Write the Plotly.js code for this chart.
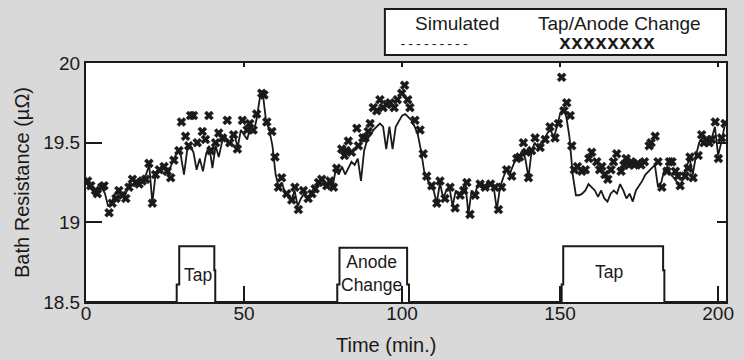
<!DOCTYPE html>
<html>
<head>
<meta charset="utf-8">
<script src="https://cdn.plot.ly/plotly-3.0.1.min.js"></script>
<style>html,body{margin:0;padding:0;background:#d9d9d9;}#chart{width:744px;height:360px;}</style>
</head>
<body>
<div id="chart"></div>
<script>
// Solid line series (time in min, bath resistance in micro-ohm)
var lineTime = [0,1,2,3,4,5,6,7,8,9,10,11,12,13,14,15,16,17,18,19,20,21,22,23,24,25,26,27,28,29,30,31,32,33,34,35,36,37,38,39,40,41,42,43,44,45,46,47,48,49,50,51,52,53,54,55,56,57,58,59,60,61,62,63,64,65,66,67,68,69,70,71,72,73,74,75,76,77,78,79,80,81,82,83,84,85,86,87,88,89,90,91,92,93,94,95,96,97,98,99,100,101,102,103,104,105,106,107,108,109,110,111,112,113,114,115,116,117,118,119,120,121,122,123,124,125,126,127,128,129,130,131,132,133,134,135,136,137,138,139,140,141,142,143,144,145,146,147,148,149,150,151,152,153,154,155,156,157,158,159,160,161,162,163,164,165,166,167,168,169,170,171,172,173,174,175,176,177,178,179,180,181,182,183,184,185,186,187,188,189,190,191,192,193,194,195,196,197,198,199,200,201,202];
var lineValue = [19.25,19.22,19.2,19.17,19.2,19.22,19.18,19.1,19.12,19.17,19.2,19.18,19.15,19.2,19.26,19.27,19.24,19.25,19.27,19.3,19.36,19.12,19.3,19.33,19.35,19.34,19.3,19.36,19.4,19.45,19.42,19.3,19.45,19.48,19.44,19.33,19.4,19.32,19.43,19.48,19.34,19.48,19.41,19.5,19.55,19.48,19.52,19.55,19.47,19.58,19.55,19.52,19.6,19.56,19.65,19.78,19.8,19.63,19.58,19.48,19.3,19.22,19.25,19.18,19.16,19.14,19.2,19.1,19.15,19.18,19.15,19.18,19.2,19.22,19.25,19.24,19.22,19.25,19.22,19.33,19.3,19.35,19.3,19.34,19.38,19.36,19.4,19.26,19.45,19.52,19.55,19.58,19.6,19.62,19.6,19.46,19.6,19.46,19.6,19.64,19.67,19.68,19.66,19.64,19.6,19.55,19.45,19.32,19.27,19.22,19.2,19.12,19.25,19.15,19.2,19.22,19.1,19.2,19.17,19.2,19.25,19.05,19.2,19.17,19.24,19.22,19.22,19.25,19.24,19.22,19.08,19.22,19.28,19.33,19.3,19.35,19.4,19.41,19.45,19.4,19.28,19.45,19.5,19.47,19.5,19.52,19.56,19.58,19.53,19.6,19.68,19.72,19.66,19.53,19.3,19.17,19.17,19.18,19.2,19.24,19.22,19.2,19.16,19.2,19.15,19.13,19.18,19.2,19.18,19.24,19.2,19.15,19.18,19.13,19.2,19.23,19.26,19.3,19.32,19.34,19.36,19.22,19.25,19.33,19.35,19.3,19.28,19.25,19.23,19.28,19.35,19.4,19.3,19.42,19.5,19.53,19.52,19.5,19.53,19.6,19.42,19.5,19.6];

// x-marker series
var markTime = [0.5,1.5,3,3.6,5,5.7,7.3,8.3,9.5,10.4,11.5,12.6,13.6,14.7,15.8,16.8,17.8,18.9,19.9,21,22,23.2,24.7,25.7,26.8,27.8,29.4,30.2,31.5,32.5,33.1,34,35.2,36.8,37.8,38.9,39.5,41,42,43.2,44.7,45.5,46.7,47.9,49.5,51,51.8,52.9,54,55.6,56.3,57.2,58.8,59.8,60.9,61.9,63.5,65.1,66.1,67.2,68.8,70.3,71.5,72.5,73.6,74.6,76.2,77.2,78.3,79.3,80.9,81.8,82.3,83,84,85.7,86.2,87.6,88.3,89.3,89.9,90.9,92,93,94,95.2,96.2,97.5,98.5,99.9,100.8,101.8,102.5,104.1,105.7,106.7,107.8,109.4,111,112,113.6,115.2,116.8,118.4,119.5,120.5,121.5,123.1,124.7,126.3,128,129.4,130.5,131.5,133.1,134.7,136.3,137.2,138.4,139.3,140,141,142.1,143.7,145.3,146.8,148.4,149.5,150.5,151.2,152.1,153.2,153.7,154.5,155.5,156.9,158,159.1,160,161.6,162.5,163.2,164.2,165.1,166.1,166.9,167.9,169.3,170.2,170.9,171.8,172.5,173.5,174.6,175.6,176.7,178.2,178.8,180.1,181,182.2,183.8,184.6,185.4,186.5,187.3,188,189.6,190.5,191.1,192.1,193.7,194.8,195.5,196.4,197.2,198,199.1,200.1,201.1,202.2];
var markValue = [19.26,19.23,19.2,19.18,19.22,19.23,19.06,19.12,19.15,19.2,19.17,19.15,19.22,19.27,19.25,19.24,19.26,19.27,19.37,19.12,19.3,19.33,19.35,19.32,19.28,19.39,19.45,19.63,19.54,19.48,19.67,19.67,19.5,19.57,19.52,19.67,19.45,19.5,19.56,19.53,19.64,19.5,19.55,19.46,19.64,19.58,19.62,19.58,19.68,19.81,19.8,19.63,19.57,19.41,19.22,19.28,19.18,19.14,19.22,19.08,19.2,19.15,19.18,19.21,19.25,19.27,19.23,19.26,19.22,19.34,19.46,19.42,19.45,19.51,19.44,19.59,19.48,19.53,19.53,19.57,19.62,19.72,19.7,19.77,19.72,19.74,19.75,19.72,19.77,19.81,19.86,19.77,19.72,19.64,19.58,19.43,19.29,19.23,19.12,19.26,19.15,19.22,19.09,19.17,19.2,19.25,19.05,19.17,19.24,19.22,19.24,19.22,19.08,19.22,19.33,19.29,19.4,19.41,19.5,19.44,19.28,19.45,19.53,19.47,19.52,19.6,19.53,19.62,19.91,19.7,19.75,19.67,19.48,19.33,19.35,19.32,19.33,19.4,19.44,19.38,19.33,19.35,19.3,19.27,19.33,19.38,19.43,19.32,19.36,19.4,19.36,19.38,19.36,19.37,19.36,19.38,19.48,19.5,19.54,19.38,19.22,19.32,19.38,19.38,19.32,19.29,19.23,19.29,19.34,19.41,19.28,19.42,19.55,19.5,19.52,19.5,19.52,19.63,19.4,19.53,19.62];

// Tap / anode change event profile
var stepTime = [0,28.7,28.7,29.5,29.5,40.6,40.6,40.9,40.9,79.5,79.5,80.2,80.2,101.6,101.6,102.2,102.2,150.5,150.5,151,151,182.6,182.6,183,183,202.5];
var stepLevel = [18.5,18.5,18.61,18.61,18.85,18.85,18.7,18.7,18.5,18.5,18.61,18.61,18.84,18.84,18.61,18.61,18.5,18.5,18.61,18.61,18.85,18.85,18.7,18.7,18.5,18.5];

var eventLabels = ['Tap', 'Anode<br>Change', 'Tap'];
var eventLabelTime = [35.3, 90.3, 165.6];
var eventLabelLevel = [18.67, 18.68, 18.69];

var xTicks = [0, 50, 100, 150, 200];
var yTicks = [18.5, 19, 19.5, 20];
var yTickText = ['18.5', '19', '19.5', '20'];

var FONT = '"Liberation Sans", Arial, sans-serif';
var INK = '#1a1a1a';

var traces = [
  {x: stepTime, y: stepLevel, mode: 'lines', line: {color: INK, width: 2}, hoverinfo: 'skip', showlegend: false, cliponaxis: false},
  {x: lineTime, y: lineValue, mode: 'lines', line: {color: INK, width: 1.8}, showlegend: false},
  {x: markTime, y: markValue, mode: 'markers', marker: {symbol: 'x', size: 8, color: INK, line: {width: 0.5, color: INK}}, showlegend: false},
  {x: stepTime, y: stepLevel, xaxis: 'x2', yaxis: 'y2', mode: 'lines', opacity: 0, hoverinfo: 'skip', showlegend: false}
];

var annotations = eventLabels.map(function (t, i) {
  return {x: eventLabelTime[i], y: eventLabelLevel[i], xref: 'x', yref: 'y', text: t, showarrow: false,
          xanchor: 'center', yanchor: 'middle',
          font: {family: FONT, size: 17.5, color: INK}};
});
function paperText(x, y, text, font) {
  return {x: x, y: y, xref: 'paper', yref: 'paper', text: text, showarrow: false,
          xanchor: 'center', yanchor: 'middle', font: font};
}
annotations.push(
  paperText(0.58, 1.165, 'Simulated', {family: FONT, size: 19, color: INK}),
  paperText(0.834, 1.165, 'Tap/Anode Change', {family: FONT, size: 19, color: INK}),
  paperText(0.544, 1.079, '---------', {family: '"Liberation Mono", monospace', size: 13, color: INK}),
  paperText(0.814, 1.08, '<b>xxxxxxxx</b>', {family: '"Liberation Mono", monospace', size: 20, color: INK}),
  paperText(0.469, -0.18, 'Time (min.)', {family: FONT, size: 20, color: INK})
);

var layout = {
  width: 744, height: 360,
  paper_bgcolor: '#d9d9d9', plot_bgcolor: '#ffffff',
  margin: {l: 86, r: 18, t: 63, b: 58},
  font: {family: FONT, color: INK, size: 19},
  showlegend: false,
  xaxis: {range: [0, 202.5], tickvals: xTicks, ticks: 'inside', ticklen: 16, tickwidth: 2, tickcolor: INK,
          showline: true, linewidth: 2, linecolor: INK, mirror: true, showgrid: false, zeroline: false,
          tickfont: {size: 19}, ticklabelstandoff: -7},
  yaxis: {range: [18.5, 20], tickvals: yTicks, ticktext: yTickText, ticks: 'inside', ticklen: 16, tickwidth: 2, tickcolor: INK,
          showline: true, linewidth: 2, linecolor: INK, mirror: true, showgrid: false, zeroline: false,
          tickfont: {size: 19}, title: {text: 'Bath Resistance (µΩ)', font: {size: 20}, standoff: 8}},
  xaxis2: {overlaying: 'x', side: 'top', range: [0, 202.5], tickvals: xTicks, ticks: 'inside', ticklen: 4, tickwidth: 2, tickcolor: INK,
           showticklabels: false, showline: false, showgrid: false, zeroline: false},
  yaxis2: {overlaying: 'y', side: 'right', range: [18.5, 20], tickvals: yTicks, ticks: 'inside', ticklen: 9, tickwidth: 2, tickcolor: INK,
           showticklabels: false, showline: false, showgrid: false, zeroline: false},
  shapes: [
    {type: 'rect', xref: 'paper', yref: 'paper', x0: 0.467, x1: 1.0, y0: 1.033, y1: 1.226,
     fillcolor: '#ffffff', line: {color: INK, width: 2}, layer: 'below'}
  ],
  annotations: annotations
};

Plotly.newPlot('chart', traces, layout, {displayModeBar: false, staticPlot: true});
</script>
</body>
</html>
